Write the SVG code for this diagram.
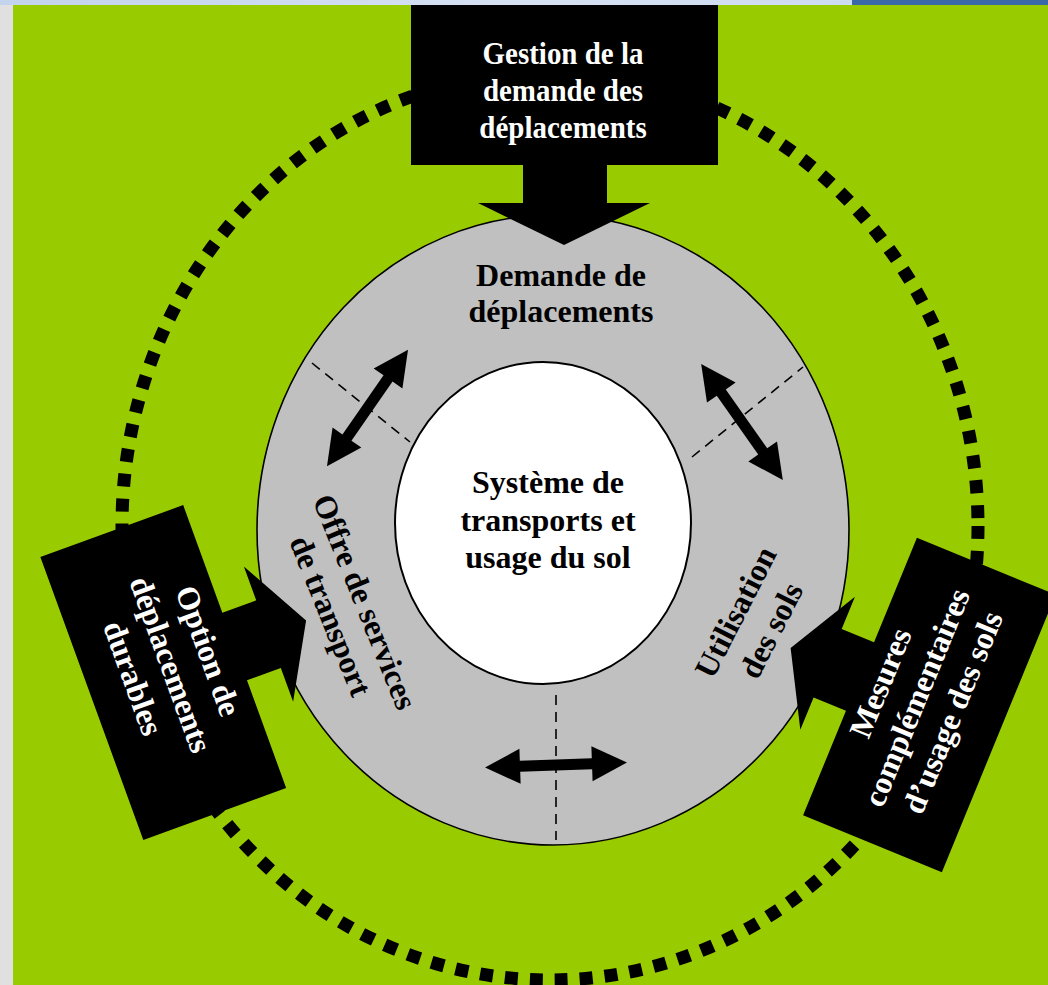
<svg xmlns="http://www.w3.org/2000/svg" width="1048" height="985" viewBox="0 0 1048 985">
<defs>
<linearGradient id="topbar" x1="0" y1="0" x2="1" y2="0">
<stop offset="0" stop-color="#c3d3ec"/>
<stop offset="0.5" stop-color="#d6e1f3"/>
<stop offset="1" stop-color="#c9d8ef"/>
</linearGradient>
<path id="dblarrow" d="M-71,0 L-36,-17.5 L-36,-5.5 L36,-5.5 L36,-17.5 L71,0 L36,17.5 L36,5.5 L-36,5.5 L-36,17.5 Z"/>
</defs>
<style>
.bg{fill:#99cc00}
.ring{fill:none;stroke:#000;stroke-width:13;stroke-dasharray:13 12}
.gray{fill:#c0c0c0;stroke:#000;stroke-width:1.6}
.white{fill:#fff;stroke:#000;stroke-width:2}
.blk{fill:#000}
.dash{stroke:#000;stroke-width:1.6;stroke-dasharray:10 7;fill:none}
.t{font-family:"Liberation Serif","Times New Roman",serif;font-weight:bold;font-size:32px;text-anchor:middle}
.w{fill:#fff}
.k{fill:#000}
</style>
<rect x="0" y="0" width="1048" height="985" fill="#e0e0e0"/>
<rect x="0" y="0" width="1048" height="5" fill="url(#topbar)"/>
<rect x="852" y="0" width="196" height="5" fill="#3b68a9"/>
<rect class="bg" x="13" y="5" width="1035" height="980"/>

<ellipse class="ring" cx="550" cy="526" rx="428" ry="454"/>

<g id="ring-demande">
<ellipse class="gray" cx="553" cy="530" rx="296" ry="315"/>
<text class="t k" x="561" y="286">Demande de</text>
<text class="t k" x="561" y="322">déplacements</text>
</g>

<g id="systeme">
<ellipse class="white" cx="543" cy="523" rx="148" ry="161"/>
<text class="t k" x="548" y="493">Système de</text>
<text class="t k" x="548" y="531">transports et</text>
<text class="t k" x="548" y="568">usage du sol</text>
</g>

<g id="offre">
<g transform="translate(355,606) rotate(68)">
<text class="t k" x="0" y="0">Offre de services</text>
<text class="t k" x="0" y="37">de transport</text>
</g>
</g>

<g id="utilisation">
<g transform="translate(745,617) rotate(-63)">
<text class="t k" x="0" y="0">Utilisation</text>
<text class="t k" x="0" y="40">des sols</text>
</g>
</g>

<g id="connectors">
<line class="dash" x1="312" y1="363" x2="410" y2="442"/>
<line class="dash" x1="692" y1="457" x2="803" y2="367"/>
<line class="dash" x1="556" y1="695" x2="556" y2="840"/>
<use href="#dblarrow" transform="translate(367.5,408) rotate(-55.2)"/>
<use href="#dblarrow" transform="translate(742,422) rotate(54.9)"/>
<use href="#dblarrow" transform="translate(556,765) rotate(-2)"/>
</g>

<g id="gestion">
<path class="blk" d="M411,5 H718 V165 H607 V203 H650 L564,245 L478,203 H523 V165 H411 Z"/>
<g transform="translate(563,0) scale(1,1.12)">
<text class="t w" style="font-size:29px" x="0" y="57.3">Gestion de la</text>
<text class="t w" style="font-size:29px" x="0" y="90.5">demande des</text>
<text class="t w" style="font-size:29px" x="0" y="123">déplacements</text>
</g>
</g>

<g id="option">
<g transform="translate(163.25,672.5) rotate(-20)">
<path class="blk" d="M-76,-150.5 H76 V-36 H112 V-72 L152,0 L112,72 V36 H76 V150.5 H-76 Z"/>
<g transform="rotate(90)">
<text class="t w" x="-5" y="-39">Option de</text>
<text class="t w" x="-5" y="1">déplacements</text>
<text class="t w" x="-5" y="41">durables</text>
</g>
</g>
</g>

<g id="mesures">
<g transform="translate(929.4,705) rotate(22.3)">
<path class="blk" d="M-75,-150 H75 V150 H-75 V37 H-110 V72 L-150,0 L-110,-72 V-37 H-75 Z"/>
<g transform="rotate(-90)">
<text class="t w" x="2" y="-43">Mesures</text>
<text class="t w" x="2" y="-4">complémentaires</text>
<text class="t w" x="2" y="35">d’usage des sols</text>
</g>
</g>
</g>
</svg>
